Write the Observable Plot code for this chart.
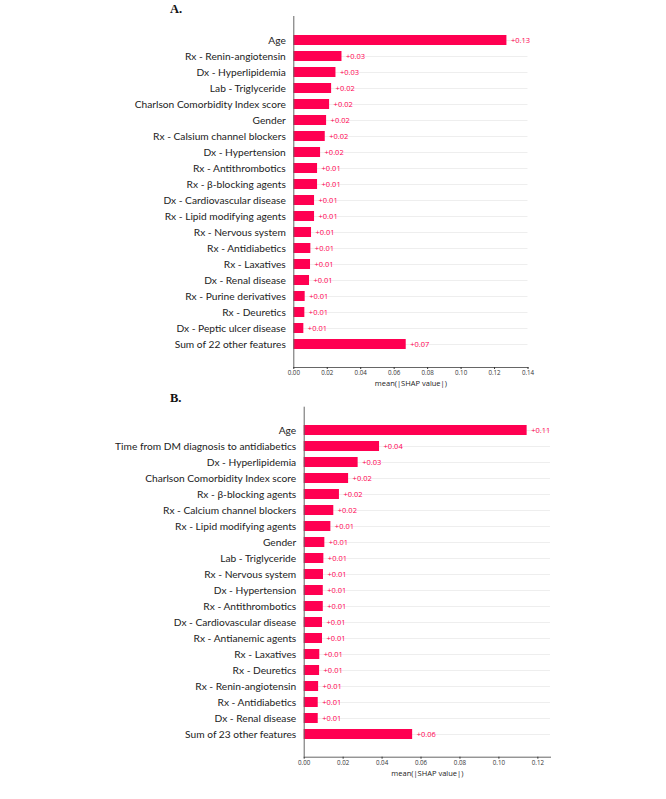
<!DOCTYPE html>
<html>
<head>
<meta charset="utf-8">
<script src="https://cdn.jsdelivr.net/npm/d3@7"></script>
<script src="https://cdn.jsdelivr.net/npm/@observablehq/plot@0.6"></script>
<style>
  html, body { margin: 0; padding: 0; background: #fff; }
  #wrap { position: relative; width: 666px; height: 799px; overflow: hidden; background: #fff; }
  .panel { position: absolute; left: 0; z-index: 1; }
  .tag { position: absolute; z-index: 2; font-family: "Liberation Serif", "DejaVu Serif", serif; font-weight: bold; font-size: 12.5px; line-height: 12px; color: #111; }
</style>
</head>
<body>
<div id="wrap">
  <div id="pa" class="panel" style="top:0px;"></div>
  <div id="pb" class="panel" style="top:392px;"></div>
  <div class="tag" style="left:170px; top:3px;">A.</div>
  <div class="tag" style="left:170px; top:392px;">B.</div>
</div>
<script>
const featuresA = [
  "Age", "Rx - Renin-angiotensin", "Dx - Hyperlipidemia", "Lab - Triglyceride",
  "Charlson Comorbidity Index score", "Gender", "Rx - Calsium channel blockers",
  "Dx - Hypertension", "Rx - Antithrombotics", "Rx - β-blocking agents",
  "Dx - Cardiovascular disease", "Rx - Lipid modifying agents", "Rx - Nervous system",
  "Rx - Antidiabetics", "Rx - Laxatives", "Dx - Renal disease", "Rx - Purine derivatives",
  "Rx - Deuretics", "Dx - Peptic ulcer disease", "Sum of 22 other features"
];
const valuesA = [
  0.1274, 0.0288, 0.0252, 0.0226, 0.0214, 0.0196, 0.0188, 0.0160, 0.0142, 0.0142,
  0.0124, 0.0124, 0.0106, 0.0102, 0.0100, 0.0094, 0.0068, 0.0066, 0.0060, 0.0672
];
const labelsA = [
  "+0.13", "+0.03", "+0.03", "+0.02", "+0.02", "+0.02", "+0.02", "+0.02", "+0.01", "+0.01",
  "+0.01", "+0.01", "+0.01", "+0.01", "+0.01", "+0.01", "+0.01", "+0.01", "+0.01", "+0.07"
];
const featuresB = [
  "Age", "Time from DM diagnosis to antidiabetics", "Dx - Hyperlipidemia",
  "Charlson Comorbidity Index score", "Rx - β-blocking agents", "Rx - Calcium channel blockers",
  "Rx - Lipid modifying agents", "Gender", "Lab - Triglyceride", "Rx - Nervous system",
  "Dx - Hypertension", "Rx - Antithrombotics", "Dx - Cardiovascular disease",
  "Rx - Antianemic agents", "Rx - Laxatives", "Rx - Deuretics", "Rx - Renin-angiotensin",
  "Rx - Antidiabetics", "Dx - Renal disease", "Sum of 23 other features"
];
const valuesB = [
  0.1145, 0.0387, 0.0277, 0.0228, 0.0181, 0.0152, 0.0137, 0.0106, 0.0101, 0.0099,
  0.0098, 0.0098, 0.0094, 0.0094, 0.0080, 0.0079, 0.0074, 0.0072, 0.0072, 0.0557
];
const labelsB = [
  "+0.11", "+0.04", "+0.03", "+0.02", "+0.02", "+0.02", "+0.01", "+0.01", "+0.01", "+0.01",
  "+0.01", "+0.01", "+0.01", "+0.01", "+0.01", "+0.01", "+0.01", "+0.01", "+0.01", "+0.06"
];
const xTicksA = [0, 0.02, 0.04, 0.06, 0.08, 0.10, 0.12, 0.14];
const xTicksB = [0, 0.02, 0.04, 0.06, 0.08, 0.10, 0.12];
const xLabel = "mean(|SHAP value|)";

const RED = "#ff0051";

function panel(features, values, labels, ticks, opts) {
  const data = features.map((f, i) => ({feature: f, value: values[i], label: labels[i]}));
  return Plot.plot({
    width: 666,
    height: opts.height,
    marginTop: opts.mt,
    marginBottom: opts.mb,
    marginLeft: opts.ml,
    marginRight: opts.mr,
    style: {fontFamily: "'Open Sans', sans-serif", background: "transparent"},
    x: {domain: opts.xdomain},
    y: {domain: features, paddingInner: 0.383, paddingOuter: opts.po},
    marks: [
      Plot.ruleY(data, {y: "feature", x1: 0, x2: opts.xdomain[1], stroke: "#eeeeee", strokeWidth: 1}),
      Plot.barX(data, {y: "feature", x: "value", fill: RED}),
      Plot.text(data, {y: "feature", x: "value", text: "label", dx: 4, textAnchor: "start", fill: RED, fontSize: 7.5}),
      Plot.ruleX([0], {stroke: "#666", strokeWidth: 1}),
      Plot.frame({anchor: "bottom", stroke: "#666"}),
      Plot.axisY({tickSize: 0, tickPadding: 8, fontSize: 10.2, color: "#222", label: null,
        fontFamily: "Lato, 'Open Sans', sans-serif"}),
      Plot.axisX({ticks: ticks, tickFormat: d3.format(".2f"), tickSize: 2, tickPadding: 1, fontSize: 6.2, color: "#333", label: null}),
      Plot.text([xLabel], {frameAnchor: "bottom", dy: 16, fontSize: 7.5, fill: "#222", lineAnchor: "middle"})
    ]
  });
}

document.getElementById("pa").appendChild(panel(featuresA, valuesA, labelsA, xTicksA,
  {height: 392, mt: 16, mb: 25, ml: 293.3, mr: 138.5, xdomain: [0, 0.14], po: 1.025}));
document.getElementById("pb").appendChild(panel(featuresB, valuesB, labelsB, xTicksB,
  {height: 407, mt: 14.7, mb: 42.3, ml: 303.7, mr: 116, xdomain: [0, 0.1265], po: 0.98}));
</script>
</body>
</html>
